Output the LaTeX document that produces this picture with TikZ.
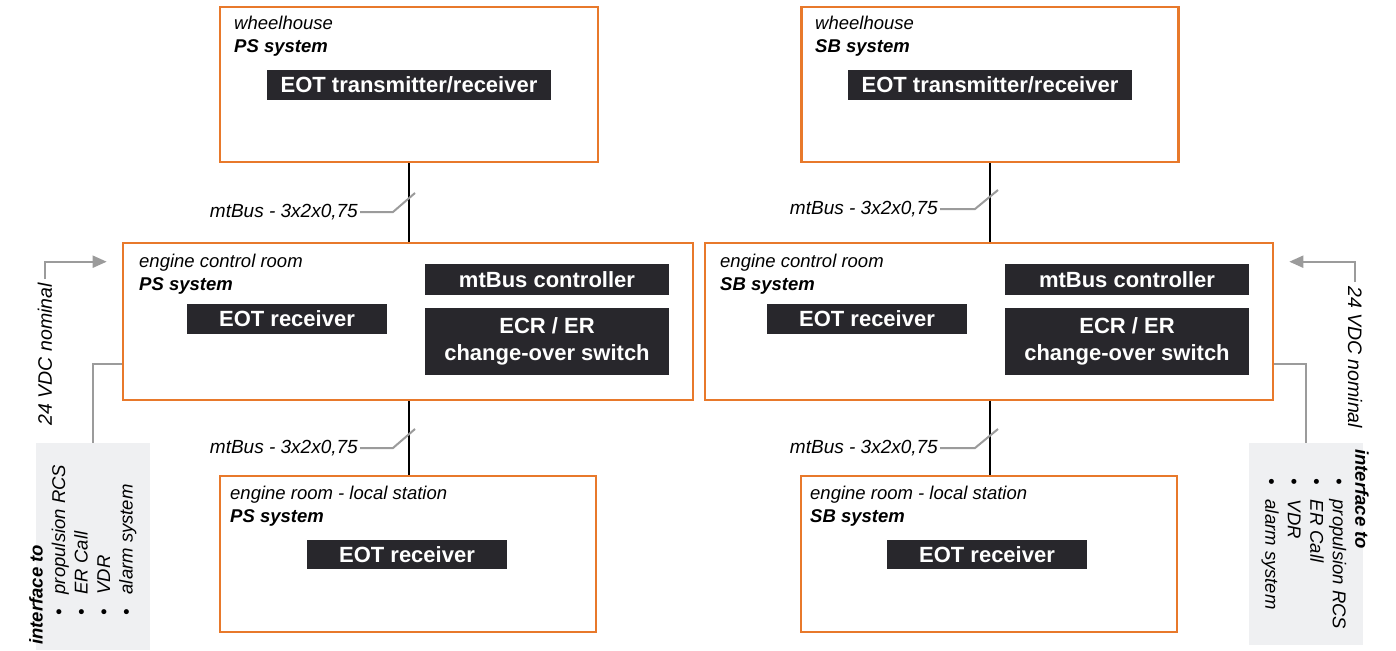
\documentclass[tikz,border=0pt]{standalone}
\usepackage{fontspec}
\setmainfont{Liberation Sans}
\usetikzlibrary{positioning,arrows.meta}
\definecolor{roomorange}{HTML}{E8792B}
\definecolor{unitdark}{HTML}{28272C}
\definecolor{wiregray}{HTML}{9B9B9B}
\definecolor{panelgray}{HTML}{EFF0F2}
\tikzset{
  room/.style={draw=roomorange, line width=2.6pt, inner sep=0pt},
  roomlabel/.style={anchor=north west, inner sep=0pt, align=left,
    font=\fontsize{18.5}{23}\selectfont\itshape},
  unit/.style={fill=unitdark, text=white, inner sep=0pt, align=center,
    minimum height=30pt, font=\fontsize{22}{27}\selectfont\bfseries},
  bus/.style={line width=2pt, black},
  wire/.style={line width=2pt, wiregray},
  cablelabel/.style={anchor=east, inner sep=2pt,
    font=\fontsize{19}{22}\selectfont\itshape},
  panel/.style={fill=panelgray, inner sep=0pt, minimum width=114pt},
  paneltext/.style={anchor=north west, inner sep=0pt, align=left,
    font=\fontsize{18.5}{22.5}\selectfont\itshape},
  vdclabel/.style={inner sep=4pt, font=\fontsize{19.5}{22}\selectfont\itshape}
}
\newcommand{\ifitem}[1]{\hspace*{29pt}\textbullet\hspace{15pt}#1}
\begin{document}
\begin{tikzpicture}[x=1pt,y=-1pt]
  \useasboundingbox (0,0) rectangle (1396,650);

  % rooms
  \node[room, minimum width=378pt, minimum height=155pt] (whPS) at (409,84.5) {};
  \node[room, minimum width=377pt, minimum height=155pt] (whSB) at (990,84.5) {};
  \node[room, minimum width=570pt, minimum height=157pt] (ecrPS) at (408,321.5) {};
  \node[room, minimum width=568pt, minimum height=157pt] (ecrSB) at (989,321.5) {};
  \node[room, minimum width=376pt, minimum height=156pt] (erPS) at (408,554) {};
  \node[room, minimum width=376pt, minimum height=156pt] (erSB) at (989,554) {};

  \node[roomlabel] (whPSlabel) at (234,16) {wheelhouse\\\textbf{PS system}};
  \node[roomlabel] (whSBlabel) at (815,16) {wheelhouse\\\textbf{SB system}};
  \node[roomlabel] (ecrPSlabel) at (139,254) {engine control room\\\textbf{PS system}};
  \node[roomlabel] (ecrSBlabel) at (720,254) {engine control room\\\textbf{SB system}};
  \node[roomlabel] (erPSlabel) at (230,486) {engine room - local station\\\textbf{PS system}};
  \node[roomlabel] (erSBlabel) at (810,486) {engine room - local station\\\textbf{SB system}};

  % units
  \node[unit, minimum width=284pt] (txPS) at (409,85) {EOT transmitter/receiver};
  \node[unit, minimum width=284pt] (txSB) at (990,85) {EOT transmitter/receiver};
  \node[unit, minimum width=244pt, minimum height=31pt] (ctrlPS) at (547,279.5) {mtBus controller};
  \node[unit, minimum width=244pt, minimum height=31pt] (ctrlSB) at (1127,279.5) {mtBus controller};
  \node[unit, minimum width=244pt, minimum height=67pt] (swPS) at (547,341.5) {ECR / ER\\change-over switch};
  \node[unit, minimum width=244pt, minimum height=67pt] (swSB) at (1127,341.5) {ECR / ER\\change-over switch};
  \node[unit, minimum width=200pt] (rxPS) at (287,319) {EOT receiver};
  \node[unit, minimum width=200pt] (rxSB) at (867,319) {EOT receiver};
  \node[unit, minimum width=200pt, minimum height=29pt] (lsPS) at (407,554.5) {EOT receiver};
  \node[unit, minimum width=200pt, minimum height=29pt] (lsSB) at (987,554.5) {EOT receiver};

  % mtBus
  \draw[bus] (whPS.south) -- (whPS.south |- ecrPS.north);
  \draw[bus] (whPS.south |- ecrPS.south) -- (whPS.south |- erPS.north);
  \draw[bus] (whSB.south) -- (whSB.south |- ecrSB.north);
  \draw[bus] (whSB.south |- ecrSB.south) -- (whSB.south |- erSB.north);

  \node[cablelabel] (cabPSa) at (360,212) {mtBus - 3x2x0,75};
  \node[cablelabel] (cabPSb) at (360,448) {mtBus - 3x2x0,75};
  \node[cablelabel] (cabSBa) at (940,209) {mtBus - 3x2x0,75};
  \node[cablelabel] (cabSBb) at (940,448) {mtBus - 3x2x0,75};
  \draw[wire] (cabPSa.east) -- ++(33,0) -- ++(22,-19);
  \draw[wire] (cabPSb.east) -- ++(33,0) -- ++(22,-19);
  \draw[wire] (cabSBa.east) -- ++(35,0) -- ++(23,-19);
  \draw[wire] (cabSBb.east) -- ++(35,0) -- ++(23,-19);

  % 24 VDC supply
  \node[vdclabel, rotate=90, anchor=east] (vdcPS) at (45,279) {24 VDC nominal};
  \node[vdclabel, rotate=-90, anchor=west] (vdcSB) at (1355,282) {24 VDC nominal};
  \draw[wire, -{Triangle[length=14pt, width=12pt]}, shorten >=15pt]
    (vdcPS.east) |- ([yshift=-20pt]ecrPS.north west);
  \draw[wire, -{Triangle[length=14pt, width=12pt]}, shorten >=15pt]
    (vdcSB.west) |- ([yshift=-20pt]ecrSB.north east);

  % interfaces
  \node[panel, minimum height=207pt] (ifPS) at (93,546.5) {};
  \node[panel, minimum height=202pt] (ifSB) at (1306,544) {};
  \draw[wire] ([yshift=37pt]ecrPS.south west) -| (ifPS.north);
  \draw[wire] ([yshift=37pt]ecrSB.south east) -| (ifSB.north);
  \node[paneltext, rotate=90] (ifPStext) at (29,645) {\textbf{interface to}\\
    \ifitem{propulsion RCS}\\\ifitem{ER Call}\\\ifitem{VDR}\\\ifitem{alarm system}};
  \node[paneltext, rotate=-90] (ifSBtext) at (1369,449) {\textbf{interface to}\\
    \ifitem{propulsion RCS}\\\ifitem{ER Call}\\\ifitem{VDR}\\\ifitem{alarm system}};
\end{tikzpicture}
\end{document}
